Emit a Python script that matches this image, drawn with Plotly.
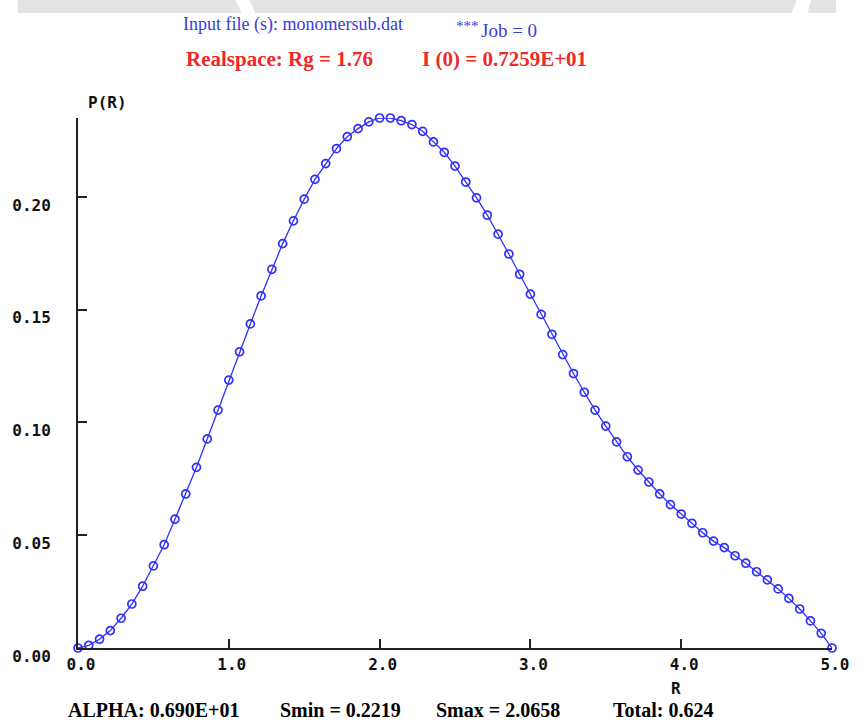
import plotly.graph_objects as go

# Distance distribution P(R), sampled at 71 equally spaced radii from 0 to 5
r_values = [i * 5.0 / 70 for i in range(71)]
p_values = [
    0.0000, 0.0012, 0.0039, 0.0077, 0.0132, 0.0195, 0.0274, 0.0364, 0.0458, 0.0571,
    0.0683, 0.0801, 0.0927, 0.1055, 0.1188, 0.1313, 0.1437, 0.1561, 0.1679, 0.1793,
    0.1894, 0.1990, 0.2078, 0.2148, 0.2214, 0.2267, 0.2303, 0.2333, 0.2350, 0.2350,
    0.2338, 0.2321, 0.2291, 0.2244, 0.2198, 0.2137, 0.2066, 0.1996, 0.1919, 0.1835,
    0.1747, 0.1657, 0.1569, 0.1479, 0.1391, 0.1301, 0.1217, 0.1134, 0.1055, 0.0984,
    0.0914, 0.0848, 0.0789, 0.0736, 0.0683, 0.0636, 0.0594, 0.0553, 0.0511, 0.0474,
    0.0445, 0.0409, 0.0376, 0.0338, 0.0302, 0.0262, 0.0220, 0.0173, 0.0120, 0.0065,
    0.0000,
]

x_ticks = [0, 1, 2, 3, 4, 5]
x_tick_text = ["0.0", "1.0", "2.0", "3.0", "4.0", "5.0"]
y_ticks = [0.0, 0.05, 0.10, 0.15, 0.20]
y_tick_text = ["0.00", "0.05", "0.10", "0.15", "0.20"]

header_blue = ["Input file (s): monomersub.dat", "***", "Job = 0"]
header_red = ["Realspace: Rg = 1.76", "I (0) = 0.7259E+01"]
footer = ["ALPHA: 0.690E+01", "Smin = 0.2219", "Smax = 2.0658", "Total: 0.624"]

W, H = 861, 722
ML, MR, MT, MB = 76, 19, 118, 74
PW, PH = W - ML - MR, H - MT - MB


def fx(px):
    return (px - ML) / PW


def fy(py):
    return (H - MB - py) / PH


BLUE = "#3030ff"
MONO = "DejaVu Sans Mono"
SERIF = "Liberation Serif"

fig = go.Figure()
fig.add_trace(go.Scatter(
    x=r_values, y=p_values, mode="lines+markers",
    line=dict(color=BLUE, width=1.3),
    marker=dict(symbol="circle-open", size=8, color=BLUE, line=dict(width=1.7, color=BLUE)),
    cliponaxis=False, showlegend=False,
))

axis_font = dict(family=MONO, size=16, color="#111111", weight="bold")

fig.update_layout(
    width=W, height=H,
    margin=dict(l=ML, r=MR, t=MT, b=MB, pad=0),
    paper_bgcolor="white", plot_bgcolor="white",
    xaxis=dict(
        range=[0, 5], tickvals=x_ticks, ticktext=x_tick_text,
        showgrid=False, zeroline=False, showline=True, linecolor="#222222", linewidth=2,
        ticks="inside", ticklen=9, tickwidth=1.5, tickcolor="#222222",
        tickfont=axis_font, ticklabelstandoff=1, ticklabelshift=3,
        ticklabeloverflow="allow",
    ),
    yaxis=dict(
        range=[0, 0.235], tickvals=y_ticks, ticktext=y_tick_text,
        showgrid=False, zeroline=False, showline=True, linecolor="#222222", linewidth=2,
        ticks="inside", ticklen=9, tickwidth=1.5, tickcolor="#222222",
        tickfont=axis_font, ticklabelstandoff=22, ticklabelshift=8,
        ticklabeloverflow="allow",
    ),
)

annotations = []


def label(text, x, y, font, anchor="left", yanchor="middle"):
    annotations.append(dict(
        text=text, x=fx(x), y=fy(y), xref="paper", yref="paper",
        xanchor=anchor, yanchor=yanchor, showarrow=False, font=font, borderpad=0,
    ))


blue_font = dict(family=SERIF, size=18, color="#3a3ae0")
job_font = dict(family=SERIF, size=19, color="#3a3ae0")
star_font = dict(family=SERIF, size=15, color="#3a3ae0")
red_font = dict(family=SERIF, size=21, color="#f02828", weight="bold")
foot_font = dict(family=SERIF, size=20, color="#000000", weight="bold")

label(header_blue[0], 182, 24, blue_font)
label(header_blue[1], 459, 26, star_font)
label(header_blue[2], 484, 31, job_font)
label(header_red[0], 185, 59, red_font)
label(header_red[1], 424, 59, red_font)
label("P(R)", 85, 102, axis_font)
label("R", 684, 688, axis_font, anchor="center")
label(footer[0], 65, 722, foot_font, yanchor="bottom")
label(footer[1], 280, 722, foot_font, yanchor="bottom")
label(footer[2], 439, 722, foot_font, yanchor="bottom")
label(footer[3], 619, 722, foot_font, yanchor="bottom")

fig.update_layout(annotations=annotations)

# light grey band along the top edge with two slanted cuts
grey = "#e3e3e3"
band = [
    [(15, 0), (236, 0), (242, 13), (15, 13)],
    [(250, 0), (806, 0), (801, 13), (256, 13)],
    [(821, 0), (846, 0), (846, 13), (817, 13)],
]
shapes = []
for poly in band:
    path = "M " + " L ".join(f"{fx(a):.5f},{fy(b):.5f}" for a, b in poly) + " Z"
    shapes.append(dict(type="path", path=path, xref="paper", yref="paper",
                       fillcolor=grey, line=dict(width=0), layer="below"))
fig.update_layout(shapes=shapes)

fig.write_html("out.html")
